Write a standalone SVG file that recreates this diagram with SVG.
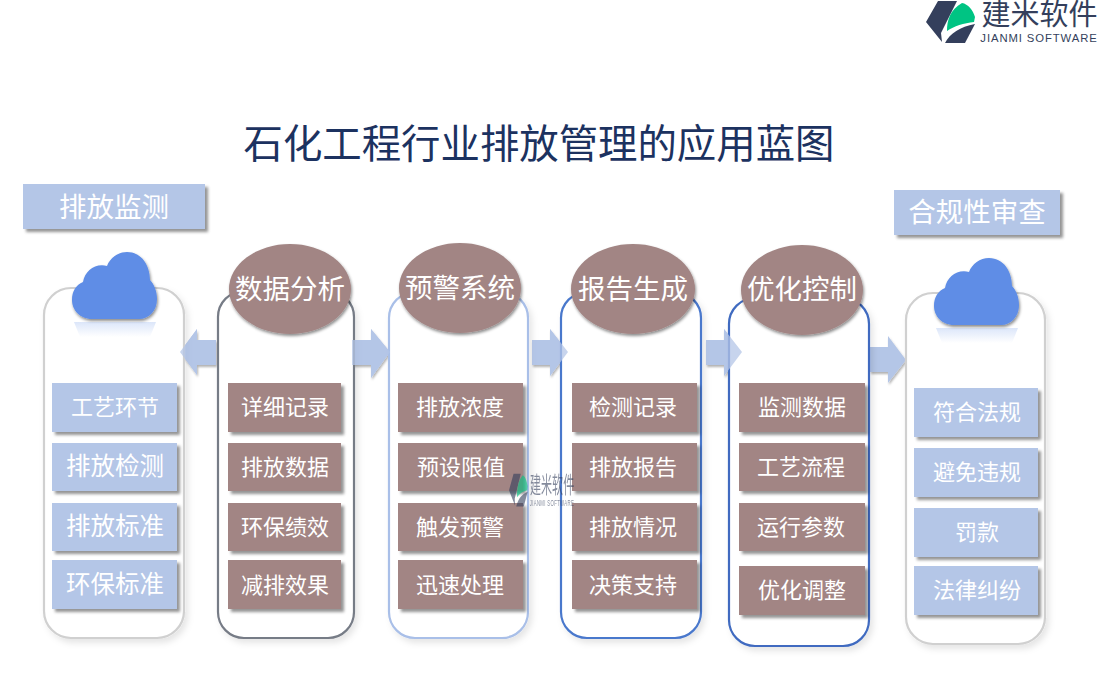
<svg xmlns="http://www.w3.org/2000/svg" width="1100" height="700" viewBox="0 0 1100 700">
<defs>
<style>
text{font-family:"Liberation Serif","Noto Sans CJK SC",sans-serif;text-anchor:middle;fill:#fff}
.panel{fill:#fff;stroke-width:2.2;filter:url(#ps)}
.blue{fill:#b4c6e7;filter:url(#s)}
.brown{fill:#a28584;filter:url(#s)}
.ell{fill:#a28584;filter:url(#s2)}
.item{font-size:22px}
.big{font-size:24.5px}
.head{font-size:27.5px}
.arrow{fill:#b4c6e7;filter:url(#s3)}
.over{fill:#b4c6e7;opacity:.75}
.cloud{fill:#5e8de6;filter:url(#s2)}
</style>
<filter id="s" x="-15%" y="-15%" width="130%" height="135%"><feDropShadow dx="3" dy="3" stdDeviation="1.6" flood-color="#000" flood-opacity=".42"/></filter>
<filter id="s2" x="-15%" y="-15%" width="130%" height="135%"><feDropShadow dx="1" dy="2" stdDeviation="1.6" flood-color="#000" flood-opacity=".45"/></filter>
<filter id="s3" x="-25%" y="-25%" width="150%" height="150%"><feDropShadow dx="1" dy="2" stdDeviation="1.3" flood-color="#000" flood-opacity=".3"/></filter>
<filter id="ps" x="-10%" y="-5%" width="125%" height="112%"><feDropShadow dx="3" dy="4" stdDeviation="3" flood-color="#000" flood-opacity=".1"/></filter>
<linearGradient id="refl" x1="0" y1="0" x2="0" y2="1"><stop offset="0" stop-color="#5e8de6" stop-opacity=".22"/><stop offset="1" stop-color="#5e8de6" stop-opacity="0"/></linearGradient>
<path id="cloudShape" d="M92 319C80 319 72 310 72 300C72 291 76 285 83 282C85 271 95 263 107 266C110 258 118 252 127 252C142 252 150 266 150 280C154 284 157 291 157 299C157 311 149 319 139 319Z"/>
<g id="logo">
<path fill="#343f5c" d="M938 1H957L941 33L942 42L926 22Z"/>
<path fill="#343f5c" d="M945 43H965L975 24C960 27 950 33 945 43Z"/>
<path fill="#00c483" d="M947 31C947 20 950 10 962 3C968 4 973 10 975 17L974 22C964 23 954 26 947 31Z"/>
<text x="1039.500" y="25" style="font-family:'Noto Sans CJK SC',sans-serif;font-size:29px;fill:#343f5c">建米软件</text>
<text x="1039" y="42" style="font-family:'Liberation Sans',sans-serif;font-size:11.300px;letter-spacing:.9px;fill:#343f5c">JIANMI SOFTWARE</text>
</g>
</defs>
<rect width="1100" height="700" fill="#fff"/>
<text x="539" y="158" style="font-size:39.400px;fill:#1c3260">石化工程行业排放管理的应用蓝图</text>
<g id="logo-top"><use href="#logo"/></g>

<g id="connectors">
<path class="arrow" d="M216 340H197V329L180 352L197 375V365H216Z"/>
<path class="arrow" d="M352 340H371V329L390 352L371 378V365H352Z"/>
<path class="arrow" d="M532 340H550V329L568 352L550 376V365H532Z"/>
<path class="arrow" d="M706 340H724V329L742 352L724 376V365H706Z"/>
<path class="arrow" d="M870 347H888V336L906 360L888 383V372H870Z"/>
</g>

<g id="panel-left"><rect class="panel" x="44" y="288" width="140" height="350" rx="27" stroke="#d0d0d0"/></g>
<g id="panel-analysis"><rect class="panel" x="218" y="291" width="136" height="347" rx="26" stroke="#767b86"/></g>
<g id="panel-warning"><rect class="panel" x="389" y="292" width="139" height="346" rx="26" stroke="#a9bfe8"/></g>
<g id="panel-report"><rect class="panel" x="561" y="292" width="140" height="346" rx="26" stroke="#4a78cc"/></g>
<g id="panel-optimize"><rect class="panel" x="729" y="298" width="140" height="348" rx="26" stroke="#3f6bc0"/></g>
<g id="panel-right"><rect class="panel" x="906" y="293" width="139" height="351" rx="27" stroke="#d0d0d0"/></g>
<path class="over" d="M352 340H371V329L390 352L371 378V365H352Z"/>
<path class="over" d="M532 340H550V329L568 352L550 376V365H532Z"/>
<path class="over" d="M706 340H724V329L742 352L724 376V365H706Z"/>
<path class="over" d="M216 340H197V329L180 352L197 375V365H216Z"/>

<g id="header-left"><rect class="blue" x="23" y="184" width="182" height="45"/><text class="head" x="114" y="217">排放监测</text></g>
<g id="header-right"><rect class="blue" x="894" y="190" width="166" height="45"/><text class="head" x="977" y="222">合规性审查</text></g>

<g id="cloud-left">
<use href="#cloudShape" class="cloud"/>
<path d="M74 322H156L150 337H80Z" fill="url(#refl)"/>
</g>
<g id="cloud-right">
<use href="#cloudShape" x="862" y="6" class="cloud"/>
<path d="M936 328H1018L1012 343H942Z" fill="url(#refl)"/>
</g>

<g id="ell-1"><ellipse class="ell" cx="290" cy="289" rx="61" ry="45"/><text class="head" x="290" y="299">数据分析</text></g>
<g id="ell-2"><ellipse class="ell" cx="460" cy="288" rx="61" ry="45"/><text class="head" x="460" y="298">预警系统</text></g>
<g id="ell-3"><ellipse class="ell" cx="633" cy="289" rx="62" ry="45"/><text class="head" x="633" y="299">报告生成</text></g>
<g id="ell-4"><ellipse class="ell" cx="802" cy="290" rx="61" ry="45"/><text class="head" x="802" y="299">优化控制</text></g>

<g id="n-a1"><rect class="blue" x="52" y="383" width="125" height="49"/><text class="item" x="115" y="415">工艺环节</text></g>
<g id="n-a2"><rect class="blue" x="52" y="443" width="125" height="48"/><text class="big" x="115" y="475">排放检测</text></g>
<g id="n-a3"><rect class="blue" x="52" y="503" width="125" height="48"/><text class="big" x="115" y="535">排放标准</text></g>
<g id="n-a4"><rect class="blue" x="52" y="560" width="125" height="49"/><text class="big" x="115" y="593">环保标准</text></g>

<g id="n-b1"><rect class="brown" x="228" y="383" width="113" height="49"/><text class="item" x="285" y="415">详细记录</text></g>
<g id="n-b2"><rect class="brown" x="228" y="443" width="113" height="48"/><text class="item" x="285" y="475">排放数据</text></g>
<g id="n-b3"><rect class="brown" x="228" y="503" width="113" height="48"/><text class="item" x="285" y="535">环保绩效</text></g>
<g id="n-b4"><rect class="brown" x="228" y="560" width="113" height="49"/><text class="item" x="285" y="593">减排效果</text></g>

<g id="n-c1"><rect class="brown" x="398" y="383" width="125" height="49"/><text class="item" x="460" y="415">排放浓度</text></g>
<g id="n-c2"><rect class="brown" x="398" y="443" width="125" height="48"/><text class="item" x="461" y="475">预设限值</text></g>
<g id="n-c3"><rect class="brown" x="398" y="503" width="125" height="48"/><text class="item" x="460" y="535">触发预警</text></g>
<g id="n-c4"><rect class="brown" x="398" y="560" width="125" height="49"/><text class="item" x="460" y="593">迅速处理</text></g>

<g id="n-d1"><rect class="brown" x="572" y="383" width="125" height="49"/><text class="item" x="633" y="415">检测记录</text></g>
<g id="n-d2"><rect class="brown" x="572" y="443" width="125" height="48"/><text class="item" x="633" y="475">排放报告</text></g>
<g id="n-d3"><rect class="brown" x="572" y="503" width="125" height="48"/><text class="item" x="633" y="535">排放情况</text></g>
<g id="n-d4"><rect class="brown" x="572" y="560" width="125" height="49"/><text class="item" x="633" y="593">决策支持</text></g>

<g id="n-e1"><rect class="brown" x="739" y="383" width="126" height="49"/><text class="item" x="802" y="415">监测数据</text></g>
<g id="n-e2"><rect class="brown" x="739" y="443" width="126" height="48"/><text class="item" x="801" y="475">工艺流程</text></g>
<g id="n-e3"><rect class="brown" x="739" y="503" width="126" height="48"/><text class="item" x="801" y="535">运行参数</text></g>
<g id="n-e4"><rect class="brown" x="739" y="566" width="126" height="49"/><text class="item" x="802" y="598">优化调整</text></g>

<g id="n-f1"><rect class="blue" x="914" y="388" width="124" height="49"/><text class="item" x="977" y="420">符合法规</text></g>
<g id="n-f2"><rect class="blue" x="914" y="448" width="124" height="49"/><text class="item" x="977" y="480">避免违规</text></g>
<g id="n-f3"><rect class="blue" x="914" y="508" width="124" height="49"/><text class="item" x="977" y="540">罚款</text></g>
<g id="n-f4"><rect class="blue" x="914" y="566" width="124" height="49"/><text class="item" x="977" y="598">法律纠纷</text></g>

<g id="watermark" opacity=".6" transform="translate(509 473) scale(.38,.78) translate(-926 0)"><use href="#logo"/></g>
</svg>
